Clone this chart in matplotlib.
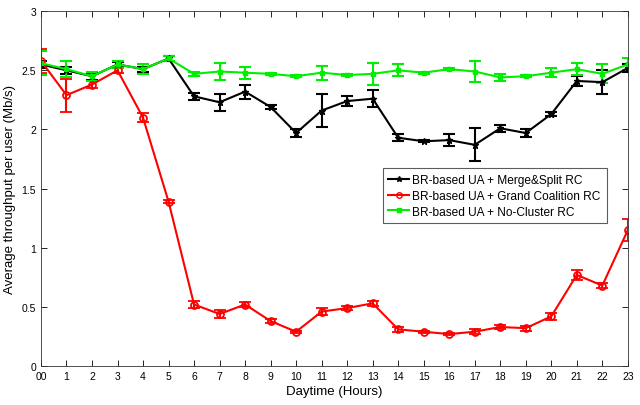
import numpy as np
import matplotlib.pyplot as plt
from matplotlib.lines import Line2D

plt.rcParams['font.family'] = ['Liberation Sans', 'DejaVu Sans']

hours = list(range(24))
hour_labels = ['00'] + [str(h) for h in range(1, 24)]

# Merge&Split RC
merge_split = [2.55, 2.50, 2.45, 2.55, 2.51, 2.60, 2.28, 2.23, 2.32, 2.19, 1.97, 2.16,
               2.24, 2.26, 1.93, 1.90, 1.91, 1.87, 2.01, 1.97, 2.13, 2.41, 2.40, 2.52]
merge_split_err = [0.03, 0.03, 0.03, 0.02, 0.02, 0.02, 0.03, 0.07, 0.06, 0.02, 0.03, 0.14,
                   0.04, 0.07, 0.03, 0.01, 0.05, 0.14, 0.03, 0.03, 0.02, 0.04, 0.10, 0.03]

# Grand Coalition RC
grand = [2.58, 2.29, 2.38, 2.50, 2.10, 1.39, 0.52, 0.44, 0.52, 0.38, 0.29, 0.46,
         0.49, 0.53, 0.31, 0.29, 0.27, 0.29, 0.33, 0.32, 0.42, 0.77, 0.68, 1.15]
grand_err = [0.10, 0.14, 0.03, 0.02, 0.04, 0.01, 0.03, 0.03, 0.02, 0.02, 0.01, 0.03,
             0.02, 0.02, 0.02, 0.01, 0.01, 0.02, 0.02, 0.02, 0.03, 0.04, 0.02, 0.09]

# No-Cluster RC
no_cluster = [2.56, 2.51, 2.45, 2.55, 2.51, 2.60, 2.47, 2.49, 2.48, 2.47, 2.45, 2.48,
              2.46, 2.47, 2.50, 2.48, 2.51, 2.49, 2.44, 2.45, 2.48, 2.51, 2.47, 2.55]
no_cluster_err = [0.10, 0.07, 0.04, 0.03, 0.04, 0.02, 0.02, 0.07, 0.05, 0.01, 0.01, 0.06,
                  0.01, 0.09, 0.05, 0.01, 0.01, 0.09, 0.03, 0.01, 0.04, 0.05, 0.08, 0.05]

green = '#00ee00'

fig = plt.figure(figsize=(6.4, 4.06), dpi=100)
ax = fig.add_axes([0.064, 0.096, 0.917, 0.874])

ax.errorbar(hours, merge_split, yerr=merge_split_err, color='black', marker='*',
            markersize=5, linewidth=1.5, capsize=4, capthick=1.5, elinewidth=1.5)
ax.errorbar(hours, grand, yerr=grand_err, color='red', marker='o', markersize=5,
            markerfacecolor='none', markeredgewidth=1.3, linewidth=1.5, capsize=4,
            capthick=1.5, elinewidth=1.5)
ax.errorbar(hours, no_cluster, yerr=no_cluster_err, color=green, marker='s',
            markersize=3.5, linewidth=1.5, capsize=4, capthick=1.5, elinewidth=1.5)

ax.set_xlim(0, 23)
ax.set_ylim(0, 3)
ax.set_xticks(hours)
ax.set_xticklabels(hour_labels)
ax.set_yticks([0, 0.5, 1, 1.5, 2, 2.5, 3])
ax.set_yticklabels(['0', '0.5', '1', '1.5', '2', '2.5', '3'])
ax.tick_params(direction='in', top=True, right=True, labelsize=7.5, length=4, width=0.6)
for s in ax.spines.values():
    s.set_linewidth(0.6)
    s.set_color('#333333')

ax.set_xlabel('Daytime (Hours)', fontsize=9.5, labelpad=3)
ax.set_ylabel('Average throughput per user (Mb/s)', fontsize=9.5, labelpad=4)

handles = [
    Line2D([], [], color='black', marker='*', markersize=4, linewidth=1.5),
    Line2D([], [], color='red', marker='o', markersize=4, markerfacecolor='none',
           linewidth=1.5),
    Line2D([], [], color=green, marker='s', markersize=3, linewidth=1.5),
]
labels = ['BR-based UA + Merge&Split RC', 'BR-based UA + Grand Coalition RC',
          'BR-based UA + No-Cluster RC']
leg = ax.legend(handles, labels, loc='upper right', bbox_to_anchor=(0.964, 0.557),
                fontsize=8.6, frameon=True, fancybox=False, edgecolor='#333333',
                borderpad=0.5, labelspacing=0.3, handlelength=1.75, handletextpad=0.25,
                borderaxespad=0)
leg.get_frame().set_linewidth(0.8)

fig.savefig('out.png', dpi=100)
